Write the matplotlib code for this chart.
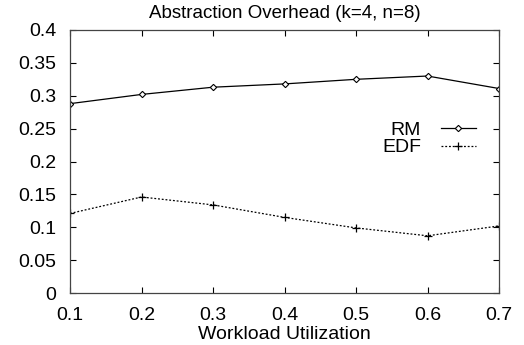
import matplotlib
matplotlib.use("Agg")
import matplotlib.pyplot as plt

plt.rcParams['font.family'] = ['Liberation Sans', 'DejaVu Sans']

utilization = [0.1, 0.2, 0.3, 0.4, 0.5, 0.6, 0.7]
rm_overhead = [0.288, 0.302, 0.313, 0.318, 0.325, 0.330, 0.311]
edf_overhead = [0.121, 0.146, 0.134, 0.115, 0.099, 0.087, 0.102]

fig = plt.figure(figsize=(5.24, 3.45), dpi=100)
ax = fig.add_axes([70 / 524, 1 - 293 / 345, 429 / 524, 263 / 345])

ax.plot(utilization, rm_overhead, color='black', linewidth=0.9, marker='D',
        markersize=3.2, markerfacecolor='white', markeredgewidth=0.8, label='RM')
ax.plot(utilization, edf_overhead, color='black', linewidth=0.9, linestyle=(0, (1.5, 1.5)),
        marker='+', markersize=6, markeredgewidth=0.9, label='EDF')

ax.set_xlim(0.1, 0.7)
ax.set_ylim(0, 0.4)
ax.set_xticks(utilization)
ax.set_xticklabels(['0.1', '0.2', '0.3', '0.4', '0.5', '0.6', '0.7'])
ax.set_yticks([0, 0.05, 0.1, 0.15, 0.2, 0.25, 0.3, 0.35, 0.4])
ax.set_yticklabels(['0', '0.05', '0.1', '0.15', '0.2', '0.25', '0.3', '0.35', '0.4'])
ax.tick_params(direction='in', top=True, right=True, labelsize=14, length=4, width=0.8)
ax.tick_params(axis='x', pad=10)
ax.tick_params(axis='y', pad=10)
for s in ax.spines.values():
    s.set_linewidth(0.9)
    s.set_color('#444444')

ax.set_title('Abstraction Overhead (k=4, n=8)', fontsize=13.5, pad=9)
ax.set_xlabel('Workload Utilization', fontsize=14, labelpad=1.5)

ax.legend(loc='upper right', bbox_to_anchor=(0.968, 0.69), frameon=False, markerfirst=False,
          fontsize=14, handlelength=1.8, labelspacing=0.0, borderpad=0, handletextpad=1.0)

plt.savefig('out.png', dpi=100)
plt.close()
